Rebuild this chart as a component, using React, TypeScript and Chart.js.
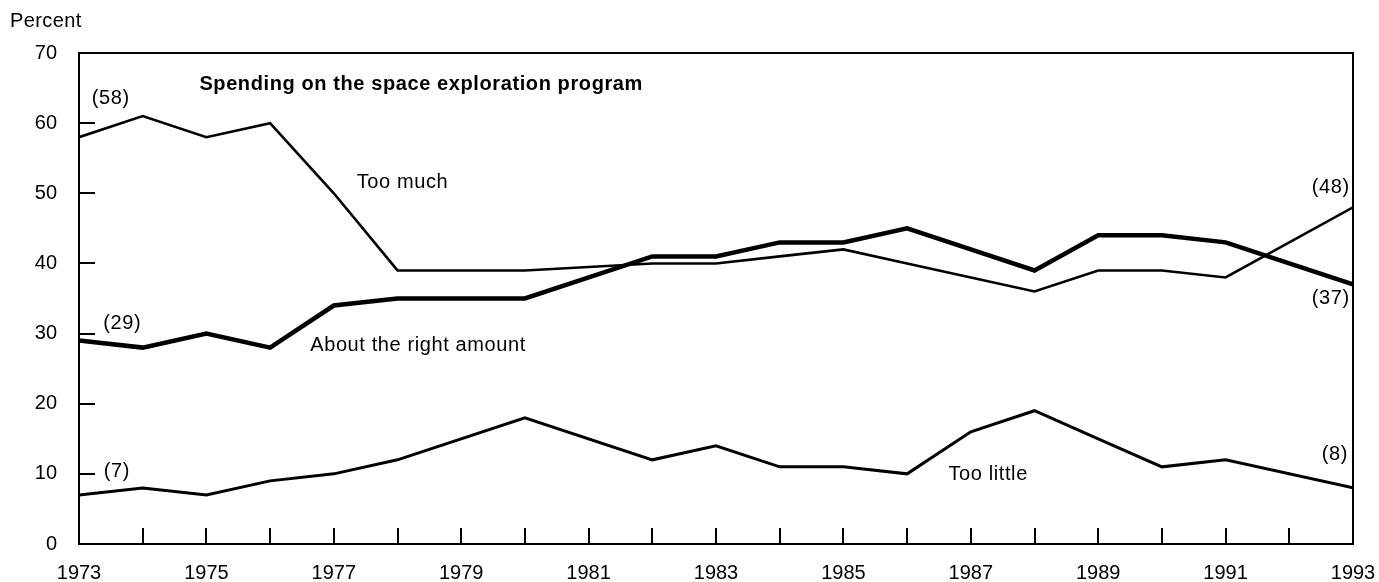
import React, { useEffect, useRef } from "react";
import { Chart, registerables } from "chart.js";

Chart.register(...registerables);

// ---- Data ----
const years = [1973, 1974, 1975, 1976, 1977, 1978, 1979, 1980, 1981, 1982, 1983, 1984, 1985, 1986, 1987, 1988, 1989, 1990, 1991, 1992, 1993];
const tooMuch = [58, 61, 58, 60, 50, 39, null, 39, null, 40, 40, 41, 42, 40, 38, 36, 39, 39, 38, null, 48];
const aboutRight = [29, 28, 30, 28, 34, 35, null, 35, null, 41, 41, 43, 43, 45, 42, 39, 44, 44, 43, null, 37];
const tooLittle = [7, 8, 7, 9, 10, 12, null, 18, null, 12, 14, 11, 11, 10, 16, 19, 15, 11, 12, null, 8];
const yTickValues = [0, 10, 20, 30, 40, 50, 60, 70];
const xLabelYears = [1973, 1975, 1977, 1979, 1981, 1983, 1985, 1987, 1989, 1991, 1993];

const titleText = "Spending on the space exploration program";
const yAxisTitle = "Percent";

// annotation texts anchored in data coordinates
const annotations: { text: string; x: number; y: number; align: CanvasTextAlign }[] = [
  { text: "(58)", x: 1973.2, y: 63.5, align: "left" },
  { text: "(29)", x: 1973.38, y: 31.5, align: "left" },
  { text: "(7)", x: 1973.39, y: 10.3, align: "left" },
  { text: "Too much", x: 1977.36, y: 51.6, align: "left" },
  { text: "About the right amount", x: 1976.63, y: 28.25, align: "left" },
  { text: "Too little", x: 1986.65, y: 9.9, align: "left" },
  { text: "(48)", x: 1992.95, y: 50.8, align: "right" },
  { text: "(37)", x: 1992.95, y: 34.95, align: "right" },
  { text: "(8)", x: 1992.92, y: 12.8, align: "right" },
];

const FONT = '"Liberation Sans", Arial, Helvetica, sans-serif';

const toPoints = (vals: (number | null)[]) => years.map((yr, i) => ({ x: yr, y: vals[i] }));

const framePlugin = {
  id: "frameAndNotes",
  afterDatasetsDraw(chart: any) {
    const { ctx, chartArea: a, scales } = chart;
    const xs = scales.x;
    const ys = scales.y;
    ctx.save();
    ctx.strokeStyle = "#000";
    ctx.lineWidth = 2;
    ctx.beginPath();
    // frame
    ctx.moveTo(a.left, a.top);
    ctx.lineTo(a.right, a.top);
    ctx.lineTo(a.right, a.bottom);
    ctx.lineTo(a.left, a.bottom);
    ctx.closePath();
    // x ticks (inward)
    for (let yr = years[0] + 1; yr < years[years.length - 1]; yr++) {
      const px = Math.round(xs.getPixelForValue(yr));
      ctx.moveTo(px, a.bottom);
      ctx.lineTo(px, a.bottom - 16);
    }
    // y ticks (inward)
    for (const v of yTickValues) {
      if (v === yTickValues[0] || v === yTickValues[yTickValues.length - 1]) continue;
      const py = Math.round(ys.getPixelForValue(v));
      ctx.moveTo(a.left, py);
      ctx.lineTo(a.left + 16, py);
    }
    ctx.stroke();

    // texts
    ctx.fillStyle = "#000";
    ctx.textBaseline = "middle";
    (ctx as any).letterSpacing = "0.6px";
    ctx.font = `20px ${FONT}`;
    for (const an of annotations) {
      ctx.textAlign = an.align;
      ctx.fillText(an.text, xs.getPixelForValue(an.x), ys.getPixelForValue(an.y));
    }
    ctx.font = `bold 20px ${FONT}`;
    ctx.textAlign = "left";
    ctx.fillText(titleText, xs.getPixelForValue(1974.89), ys.getPixelForValue(65.45));

    (ctx as any).letterSpacing = "0.4px";
    ctx.font = `20px ${FONT}`;
    ctx.textAlign = "left";
    ctx.fillText(yAxisTitle, a.left - 69, a.top - 32);
    ctx.restore();
  },
};

export default function App() {
  const ref = useRef<HTMLCanvasElement | null>(null);

  useEffect(() => {
    if (!ref.current) return;
    const common = {
      borderColor: "#000",
      backgroundColor: "#000",
      pointRadius: 0,
      pointHoverRadius: 0,
      tension: 0,
      spanGaps: true,
      fill: false,
      borderJoinStyle: "miter" as const,
    };
    const chart = new Chart(ref.current, {
      type: "line",
      data: {
        datasets: [
          { ...common, label: "Too much", data: toPoints(tooMuch), borderWidth: 2.6 },
          { ...common, label: "About the right amount", data: toPoints(aboutRight), borderWidth: 4.5 },
          { ...common, label: "Too little", data: toPoints(tooLittle), borderWidth: 3 },
        ],
      },
      options: {
        responsive: false,
        animation: false,
        events: [],
        layout: { padding: { top: 53, right: 26, left: 0, bottom: 0 } },
        plugins: {
          legend: { display: false },
          tooltip: { enabled: false },
          title: { display: false },
        },
        scales: {
          x: {
            type: "linear",
            min: years[0],
            max: years[years.length - 1],
            afterFit: (s: any) => {
              s.height = 38;
              s.paddingLeft = 0;
              s.paddingRight = 0;
            },
            afterBuildTicks: (s: any) => {
              s.ticks = xLabelYears.map((v) => ({ value: v }));
            },
            ticks: {
              autoSkip: false,
              maxRotation: 0,
              minRotation: 0,
              padding: 17,
              color: "#000",
              font: { family: FONT, size: 20 },
              callback: (v: any) => String(v),
            },
            grid: { display: true, drawOnChartArea: false, drawTicks: false },
            border: { display: false },
          },
          y: {
            type: "linear",
            min: 0,
            max: 70,
            afterFit: (s: any) => {
              s.width = 79;
              s.paddingTop = 0;
              s.paddingBottom = 0;
            },
            afterBuildTicks: (s: any) => {
              s.ticks = yTickValues.map((v) => ({ value: v }));
            },
            ticks: {
              padding: 22,
              color: "#000",
              font: { family: FONT, size: 20 },
              callback: (v: any) => String(v),
            },
            grid: { display: true, drawOnChartArea: false, drawTicks: false },
            border: { display: false },
          },
        },
      },
      plugins: [framePlugin],
    });
    return () => chart.destroy();
  }, []);

  return (
    <div style={{ position: "absolute", left: 0, top: 0, width: 1379, height: 582, background: "#fff" }}>
      <canvas ref={ref} width={1379} height={582} style={{ display: "block" }} />
    </div>
  );
}
